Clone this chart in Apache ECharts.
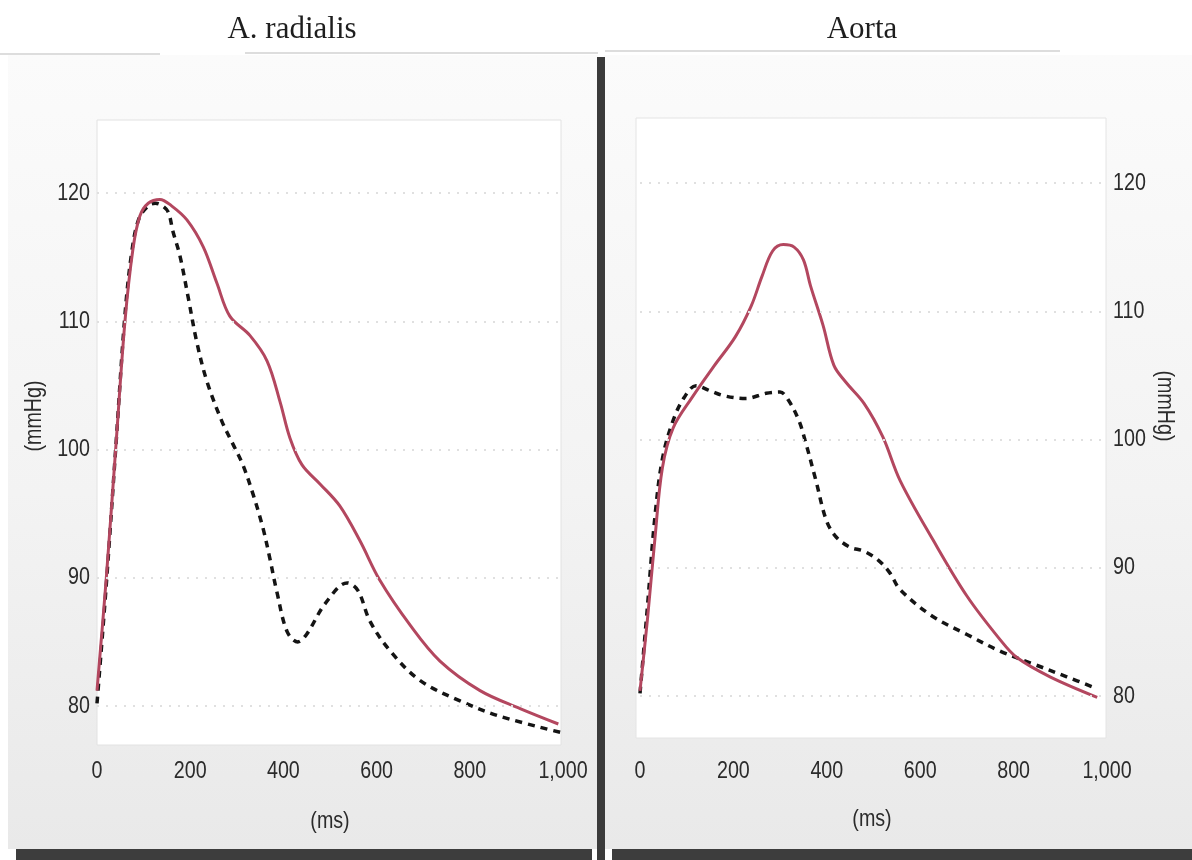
<!DOCTYPE html>
<html>
<head>
<meta charset="utf-8">
<script src="https://cdn.jsdelivr.net/npm/echarts@6/dist/echarts.min.js"></script>
<style>
  html, body { margin: 0; padding: 0; background: #ffffff; }
  #chart { width: 1192px; height: 860px; }
</style>
</head>
<body>
<div id="chart"></div>
<script>
// ---- A. radialis: solid red curve (time in ms, pressure in mmHg)
const radialisRedT = [0, 20, 40, 60, 77, 92, 110, 135, 160, 193, 228, 257, 285, 328, 365, 393, 414, 440, 479, 521, 564, 607, 672, 736, 822, 908, 990];
const radialisRedP = [81.2, 90, 100, 110, 115.6, 118.2, 119.2, 119.5, 119.0, 117.9, 115.8, 113, 110.4, 108.9, 106.9, 103.7, 100.9, 98.8, 97.3, 95.6, 92.9, 89.8, 86.3, 83.5, 81.2, 79.8, 78.6];

// ---- A. radialis: dashed black curve
const radialisDashT = [0, 20, 40, 60, 75, 90, 110, 125, 140, 153, 163, 178, 196, 214, 236, 268, 292, 313, 335, 356, 371, 386, 408, 431, 450, 490, 537, 560, 586, 629, 693, 779, 865, 1000];
const radialisDashP = [80.2, 89.5, 100, 110.5, 115.5, 118, 119, 119.2, 119, 118.5, 117, 115.1, 111.8, 108.4, 105.3, 102.2, 100.4, 98.8, 96.5, 93.9, 91.5, 88.9, 85.8, 85.0, 85.6, 88, 89.6, 89, 86.6, 84.3, 82, 80.4, 79.2, 77.9];

// ---- Aorta: solid red curve
const aortaRedT = [0, 16, 32, 48, 71, 112, 158, 204, 238, 261, 284, 307, 330, 350, 365, 392, 415, 440, 480, 520, 557, 627, 700, 771, 807, 878, 979];
const aortaRedP = [80.4, 86, 92.3, 97.8, 100.9, 103.3, 105.7, 108.0, 110.4, 112.7, 114.7, 115.2, 115.0, 114.0, 112, 108.9, 105.8, 104.5, 102.8, 100.2, 96.8, 92.2, 87.8, 84.4, 83.0, 81.5, 79.9];

// ---- Aorta: dashed black curve
const aortaDashT = [0, 16, 32, 48, 71, 95, 120, 150, 181, 227, 270, 300, 319, 340, 353, 376, 399, 420, 450, 479, 510, 535, 557, 627, 700, 771, 842, 914, 970];
const aortaDashP = [80.2, 87, 94, 98.5, 101.5, 103.3, 104.2, 103.8, 103.4, 103.2, 103.6, 103.7, 103.0, 101.5, 100, 96.9, 93.7, 92.4, 91.6, 91.3, 90.6, 89.6, 88.3, 86.2, 84.8, 83.5, 82.5, 81.5, 80.7];

// ---- axis ticks
const timeTicks = [0, 200, 400, 600, 800, 1000];
const pressureTicks = [80, 90, 100, 110, 120];

const panelTitles = ['A. radialis', 'Aorta'];
const timeAxisName = '(ms)';
const pressureAxisName = '(mmHg)';

const pairs = (t, p) => t.map((v, i) => [v, p[i]]);

const RED = '#b3475f';
const DASH = '#141414';
const INK = '#2b2b2b';
// Liberation Sans squeezed horizontally gives narrow-grotesque figures
const narrowFont = size => size + "px 'Liberation Sans', Arial, sans-serif";
const NARROW = 0.82;

const panelFill = {
  type: 'linear', x: 0, y: 0, x2: 0, y2: 1,
  colorStops: [
    { offset: 0, color: '#fbfbfb' },
    { offset: 0.55, color: '#f3f3f3' },
    { offset: 1, color: '#e9e9e9' }
  ]
};

const gridLines = {
  silent: true,
  symbol: 'none',
  label: { show: false },
  lineStyle: { color: '#e0e0e0', type: [2, 7], width: 2 },
  data: pressureTicks.map(v => ({ yAxis: v }))
};

function timeAxis(gridIndex) {
  return {
    type: 'value', gridIndex, min: 0, max: 1000, interval: 200,
    axisLine: { show: false }, axisTick: { show: false }, splitLine: { show: false },
    axisLabel: { show: false }
  };
}

function pressureAxis(gridIndex, position) {
  return {
    type: 'value', gridIndex, position, min: 77, max: 124,
    axisLine: { show: false }, axisTick: { show: false }, splitLine: { show: false },
    axisLabel: { show: false }
  };
}

const chart = echarts.init(document.getElementById('chart'), null, { renderer: 'canvas' });

chart.setOption({
  animation: false,
  backgroundColor: '#ffffff',
  grid: [
    { left: 97, width: 466, top: 141.7, height: 602.8 },
    { left: 640, width: 467, top: 131.7, height: 602.8 }
  ],
  xAxis: [timeAxis(0), timeAxis(1)],
  yAxis: [pressureAxis(0, 'left'), pressureAxis(1, 'right')],
  series: [
    {
      name: 'radialis-dashed', type: 'line', xAxisIndex: 0, yAxisIndex: 0, z: 3,
      data: pairs(radialisDashT, radialisDashP), smooth: 0.35, symbol: 'none',
      lineStyle: { color: DASH, width: 3.5, type: [7, 6] },
      markLine: gridLines
    },
    {
      name: 'radialis-solid', type: 'line', xAxisIndex: 0, yAxisIndex: 0, z: 4,
      data: pairs(radialisRedT, radialisRedP), smooth: 0.35, symbol: 'none',
      lineStyle: { color: RED, width: 3 }
    },
    {
      name: 'aorta-dashed', type: 'line', xAxisIndex: 1, yAxisIndex: 1, z: 3,
      data: pairs(aortaDashT, aortaDashP), smooth: 0.35, symbol: 'none',
      lineStyle: { color: DASH, width: 3.5, type: [7, 6] },
      markLine: gridLines
    },
    {
      name: 'aorta-solid', type: 'line', xAxisIndex: 1, yAxisIndex: 1, z: 4,
      data: pairs(aortaRedT, aortaRedP), smooth: 0.35, symbol: 'none',
      lineStyle: { color: RED, width: 3 }
    }
  ]
});

// Tick labels in a narrow face, placed through the axes' own scales
const tickLabels = [];
[0, 1].forEach(g => {
  const yMinPx = chart.convertToPixel({ yAxisIndex: g }, 77);
  const labelY = g === 0 ? yMinPx + 27 : yMinPx + 37;
  timeTicks.forEach(v => {
    tickLabels.push({
      type: 'text', x: chart.convertToPixel({ xAxisIndex: g }, v), y: labelY, scaleX: NARROW,
      style: { text: v.toLocaleString('en-US'), font: narrowFont(24), fill: INK, align: 'center', verticalAlign: 'middle' }
    });
  });
  const edge = chart.convertToPixel({ xAxisIndex: g }, g === 0 ? 0 : 1000);
  pressureTicks.forEach(v => {
    tickLabels.push({
      type: 'text', x: g === 0 ? edge - 7 : edge + 6, y: chart.convertToPixel({ yAxisIndex: g }, v), scaleX: NARROW,
      style: { text: String(v), font: narrowFont(24), fill: INK, align: g === 0 ? 'right' : 'left', verticalAlign: 'middle' }
    });
  });
});

chart.setOption({
  graphic: [
    // panel backgrounds
    { type: 'rect', z: -10, shape: { x: 8, y: 55, width: 590, height: 794 }, style: { fill: panelFill } },
    { type: 'rect', z: -10, shape: { x: 604, y: 55, width: 588, height: 794 }, style: { fill: panelFill } },
    // plot areas
    { type: 'rect', z: -9, shape: { x: 97, y: 120, width: 464, height: 625 }, style: { fill: '#ffffff', stroke: '#e2e2e2', lineWidth: 1 } },
    { type: 'rect', z: -9, shape: { x: 636, y: 118, width: 470, height: 620 }, style: { fill: '#ffffff', stroke: '#e4e4e4', lineWidth: 1 } },
    // rules under the titles
    { type: 'line', z: -8, shape: { x1: 0, y1: 54, x2: 160, y2: 54 }, style: { stroke: '#d2d2d2', lineWidth: 1.5 } },
    { type: 'line', z: -8, shape: { x1: 245, y1: 53, x2: 598, y2: 53 }, style: { stroke: '#d2d2d2', lineWidth: 1.5 } },
    { type: 'line', z: -8, shape: { x1: 605, y1: 51, x2: 1060, y2: 51 }, style: { stroke: '#d2d2d2', lineWidth: 1.5 } },
    // dark frame bars
    { type: 'rect', z: -5, shape: { x: 597, y: 57, width: 8, height: 803 }, style: { fill: '#3b3b3b' } },
    { type: 'rect', z: -5, shape: { x: 16, y: 849, width: 576, height: 11 }, style: { fill: '#3d3d3d' } },
    { type: 'rect', z: -5, shape: { x: 612, y: 849, width: 580, height: 11 }, style: { fill: '#3d3d3d' } },
    // titles
    { type: 'text', x: 292, y: 30, style: { text: panelTitles[0], font: "31px 'Liberation Serif', 'DejaVu Serif', serif", fill: '#1e1e1e', align: 'center', verticalAlign: 'middle' } },
    { type: 'text', x: 862, y: 30, style: { text: panelTitles[1], font: "31px 'Liberation Serif', 'DejaVu Serif', serif", fill: '#1e1e1e', align: 'center', verticalAlign: 'middle' } },
    // axis names
    { type: 'text', x: 330, y: 821, scaleX: NARROW, style: { text: timeAxisName, font: narrowFont(24), fill: INK, align: 'center', verticalAlign: 'middle' } },
    { type: 'text', x: 872, y: 819, scaleX: NARROW, style: { text: timeAxisName, font: narrowFont(24), fill: INK, align: 'center', verticalAlign: 'middle' } },
    { type: 'text', x: 34, y: 416, rotation: Math.PI / 2, scaleX: NARROW, style: { text: pressureAxisName, font: narrowFont(24), fill: INK, align: 'center', verticalAlign: 'middle' } },
    { type: 'text', x: 1165, y: 406, rotation: -Math.PI / 2, scaleX: NARROW, style: { text: pressureAxisName, font: narrowFont(24), fill: INK, align: 'center', verticalAlign: 'middle' } }
  ].concat(tickLabels)
});
</script>
</body>
</html>
